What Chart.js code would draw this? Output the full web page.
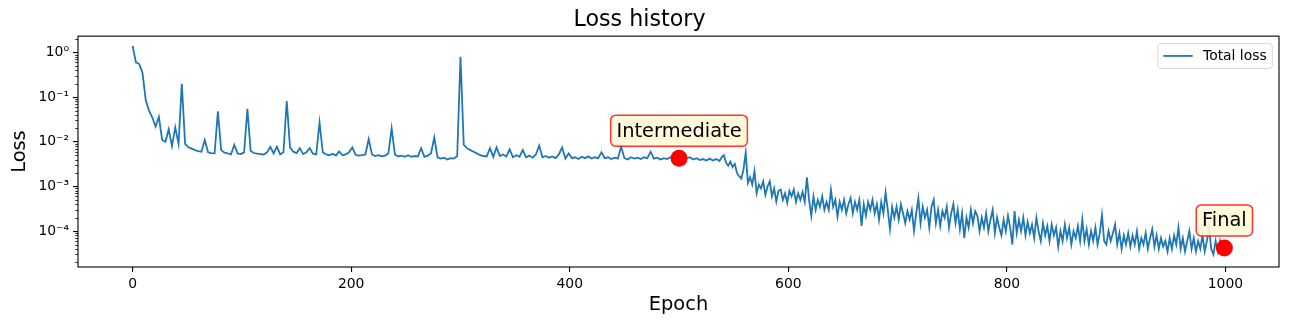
<!DOCTYPE html>
<html>
<head>
<meta charset="utf-8">
<script src="https://cdn.jsdelivr.net/npm/chart.js@4.4.1/dist/chart.umd.min.js"></script>
<style>
  html, body { margin: 0; padding: 0; background: #fff; }
  #wrap { width: 1289px; height: 325px; }
</style>
</head>
<body>
<div id="wrap"><canvas id="lossChart" width="1289" height="325"></canvas></div>
<script>
// early part of the run, one value every 3 epochs (epochs 0..537, 30 epochs per line)
const lossEarly = [
  1.4, 0.6, 0.55, 0.35, 0.085, 0.05, 0.035, 0.022, 0.036, 0.011,                       // 0
  0.01, 0.019, 0.008, 0.021, 0.009, 0.2, 0.009, 0.0075, 0.007, 0.0065,                  // 30
  0.0062, 0.006, 0.011, 0.0058, 0.0056, 0.0055, 0.048, 0.0065, 0.0057, 0.0055,          // 60
  0.0052, 0.0085, 0.0055, 0.0053, 0.0058, 0.055, 0.0062, 0.0056, 0.0054, 0.0053,        // 90
  0.0052, 0.0058, 0.0077, 0.0055, 0.0078, 0.0052, 0.0058, 0.082, 0.0075, 0.006,         // 120
  0.0056, 0.0072, 0.0053, 0.0058, 0.0072, 0.0054, 0.0052, 0.027, 0.0058, 0.0052,        // 150
  0.005, 0.0054, 0.0049, 0.0061, 0.005, 0.0052, 0.0058, 0.0075, 0.0051, 0.0049,         // 180
  0.005, 0.0052, 0.0115, 0.0052, 0.0048, 0.005, 0.0047, 0.0049, 0.0055, 0.02,           // 210
  0.0052, 0.0047, 0.0049, 0.0046, 0.005, 0.0046, 0.0048, 0.0047, 0.0072, 0.0046,        // 240
  0.0049, 0.0055, 0.0125, 0.0045, 0.0042, 0.0044, 0.004, 0.0043, 0.0042, 0.0048,        // 270
  0.8, 0.0085, 0.0072, 0.0065, 0.006, 0.0055, 0.005, 0.0048, 0.0047, 0.0072,            // 300
  0.0046, 0.0075, 0.0048, 0.0052, 0.0047, 0.0068, 0.0045, 0.005, 0.0046, 0.0066,        // 330
  0.0045, 0.0049, 0.0044, 0.0052, 0.0082, 0.0045, 0.0048, 0.0044, 0.0047, 0.0043,       // 360
  0.0052, 0.0074, 0.0042, 0.0055, 0.0043, 0.0045, 0.0041, 0.0046, 0.0043, 0.0047,       // 390
  0.0042, 0.0045, 0.0043, 0.0058, 0.0043, 0.0045, 0.0041, 0.0044, 0.0042, 0.0078,       // 420
  0.0043, 0.004, 0.0045, 0.0042, 0.0044, 0.0041, 0.0045, 0.0043, 0.006, 0.0042,         // 450
  0.0044, 0.004, 0.0043, 0.0041, 0.0045, 0.0042, 0.0044, 0.004, 0.0046, 0.0042,         // 480
  0.0045, 0.004, 0.0043, 0.0039, 0.0041, 0.0038, 0.0042, 0.0038, 0.0041, 0.0037         // 510
];
// noisy late part, one value every 2 epochs (epochs 539..999, 20 epochs per line)
const lossLate = [
  0.0045, 0.005, 0.0034, 0.0029, 0.0036, 0.0027, 0.0032, 0.002, 0.0017, 0.0015,          // 539
  0.0024, 0.0057, 0.0012, 0.0016, 0.0011, 0.0022, 0.0007, 0.0011, 0.0009, 0.0013,        // 559
  0.00065, 0.001, 0.0013, 0.0006, 0.0009, 0.00046, 0.0008, 0.00085, 0.0005, 0.0007,      // 579
  0.00043, 0.0008, 0.0006, 0.00085, 0.00045, 0.0007, 0.0005, 0.00075, 0.00045, 0.0016,   // 599
  0.0005, 0.00022, 0.0006, 0.0003, 0.0005, 0.00035, 0.0006, 0.0003, 0.00045, 0.0003,     // 619
  0.00085, 0.00035, 0.0005, 0.00021, 0.00045, 0.0003, 0.0005, 0.00025, 0.0004, 0.00055,  // 639
  0.00025, 0.00045, 0.0003, 0.0005, 0.00013, 0.0004, 0.00022, 0.00045, 0.0003, 0.0005,   // 659
  0.00025, 0.0004, 0.00018, 0.00045, 0.00025, 0.00073, 0.0003, 0.00011, 0.00035, 0.0002, // 679
  0.00035, 0.00018, 0.0004, 0.00025, 0.00015, 0.00028, 0.00018, 0.0003, 0.0001, 0.00025, // 699
  0.00055, 0.00015, 0.00035, 0.0002, 0.0003, 0.00012, 0.00035, 0.0005, 0.00015, 0.0003,  // 719
  0.00013, 0.00028, 0.0002, 0.00035, 0.00012, 0.00025, 0.0004, 0.00015, 0.0003, 0.00011, // 739
  0.00025, 0.00007, 0.0002, 0.00012, 0.0003, 0.00015, 0.00028, 0.00022, 0.0001, 0.0002,  // 759
  0.00012, 0.00025, 0.0001, 0.00018, 0.0003, 0.00009, 0.0002, 0.00012, 0.00008, 0.00018, // 779
  0.0001, 0.00022, 0.00012, 0.00005, 0.00028, 0.00009, 0.00018, 0.0001, 0.0002, 0.00008, // 799
  0.00016, 0.00009, 0.00014, 0.00007, 0.0002, 0.0001, 0.00006, 0.00015, 0.00008, 0.00013, // 819
  0.00006, 0.00014, 0.00008, 0.00012, 0.000045, 0.0001, 0.00006, 0.00014, 0.00007, 0.00012, // 839
  0.00005, 0.0001, 0.00007, 0.00013, 0.00006, 0.00018, 0.00006, 0.00011, 0.00005, 0.0001,   // 859
  0.00006, 0.00012, 0.00005, 0.00009, 0.00023, 0.00006, 0.00005, 0.0001, 0.00006, 0.00009,  // 879
  0.00014, 0.00005, 0.00009, 0.00004, 0.00008, 0.00005, 0.00009, 0.000045, 0.00008, 0.00005, // 899
  0.0001, 0.00004, 0.00007, 0.00005, 0.00009, 0.00004, 0.00007, 0.00011, 0.000045, 0.00008,  // 919
  0.00004, 0.00007, 0.000045, 0.00006, 0.000035, 0.00007, 0.00004, 0.00008, 0.00005, 0.00012, // 939
  0.00004, 0.00007, 0.000035, 0.00006, 0.0001, 0.00004, 0.00007, 0.000035, 0.00006, 0.00004,  // 959
  0.00008, 0.000035, 0.00006, 0.00012, 0.00004, 0.00003, 0.00006, 0.000035, 0.00006, 0.000035, // 979
  0.000042                                                                                     // 999
];
const epochsEarly = lossEarly.map((_, i) => i * 3);
const epochsLate = lossLate.map((_, i) => 539 + i * 2);
const epochs = epochsEarly.concat(epochsLate);
const loss = lossEarly.concat(lossLate);

// annotated points
const markEpochs = [500, 999];
const markLoss = [0.0043, 0.000042];
const markLabels = ['Intermediate', 'Final'];

const xTicks = [0, 200, 400, 600, 800, 1000];
const yTicks = [1, 0.1, 0.01, 0.001, 0.0001];
const yTickLabels = ['10⁰', '10⁻¹', '10⁻²', '10⁻³', '10⁻⁴'];

const FONT = 'DejaVu Sans';
const BLUE = '#1f77b4';

function roundRect(ctx, x, y, w, h, r) {
  ctx.beginPath();
  ctx.moveTo(x + r, y);
  ctx.lineTo(x + w - r, y);
  ctx.arcTo(x + w, y, x + w, y + r, r);
  ctx.lineTo(x + w, y + h - r);
  ctx.arcTo(x + w, y + h, x + w - r, y + h, r);
  ctx.lineTo(x + r, y + h);
  ctx.arcTo(x, y + h, x, y + h - r, r);
  ctx.lineTo(x, y + r);
  ctx.arcTo(x, y, x + r, y, r);
  ctx.closePath();
}

// frame, minor log ticks, annotation boxes and the legend
const extras = {
  id: 'extras',
  afterDatasetsDraw(chart) {
    const { ctx, chartArea: a, scales } = chart;
    const ys = scales.y, xs = scales.x;
    ctx.save();

    ctx.strokeStyle = '#000';
    ctx.lineWidth = 1.1;
    ctx.strokeRect(a.left, a.top, a.right - a.left, a.bottom - a.top);

    ctx.lineWidth = 0.8;
    for (let k = -6; k <= 1; k++) {
      for (let m = 2; m <= 9; m++) {
        const v = m * Math.pow(10, k);
        if (v < ys.min || v > ys.max) continue;
        const py = Math.round(ys.getPixelForValue(v)) + 0.5;
        ctx.beginPath();
        ctx.moveTo(a.left, py);
        ctx.lineTo(a.left - 2.8, py);
        ctx.stroke();
      }
    }

    // annotation boxes
    ctx.font = '19.4px "' + FONT + '"';
    ctx.textAlign = 'center';
    ctx.textBaseline = 'middle';
    markLabels.forEach((label, i) => {
      const px = xs.getPixelForValue(markEpochs[i]);
      const py = ys.getPixelForValue(markLoss[i]) - 27.5;
      const w = ctx.measureText(label).width + 11.6;
      const h = 31;
      roundRect(ctx, px - w / 2, py - h / 2, w, h, 5);
      ctx.fillStyle = 'rgba(255, 248, 215, 0.9)';
      ctx.fill();
      ctx.strokeStyle = 'rgba(255, 0, 0, 0.8)';
      ctx.lineWidth = 1.5;
      ctx.stroke();
      ctx.fillStyle = '#000';
      ctx.fillText(label, px, py + 1);
    });

    // legend
    ctx.font = '13.9px "' + FONT + '"';
    const text = 'Total loss';
    const tw = ctx.measureText(text).width;
    const boxRight = a.right - 6.7;
    const boxTop = a.top + 7.3;
    const textLeft = boxRight - 5.6 - tw;
    const lineRight = textLeft - 10.3;
    const lineLeft = lineRight - 29.4;
    const boxLeft = lineLeft - 5.3;
    const cy = boxTop + 12.5;
    roundRect(ctx, boxLeft, boxTop, boxRight - boxLeft, 25, 3);
    ctx.fillStyle = 'rgba(255,255,255,0.8)';
    ctx.fill();
    ctx.strokeStyle = '#d6d6d6';
    ctx.lineWidth = 1;
    ctx.stroke();
    ctx.strokeStyle = BLUE;
    ctx.lineWidth = 1.8;
    ctx.beginPath();
    ctx.moveTo(lineLeft, cy);
    ctx.lineTo(lineRight, cy);
    ctx.stroke();
    ctx.fillStyle = '#000';
    ctx.textAlign = 'left';
    ctx.fillText(text, textLeft, cy + 0.5);

    ctx.restore();
  }
};

new Chart(document.getElementById('lossChart'), {
  type: 'line',
  data: {
    datasets: [
      {
        label: 'markers',
        data: markEpochs.map((e, i) => ({ x: e, y: markLoss[i] })),
        showLine: false,
        pointRadius: 8.5,
        pointBackgroundColor: '#ff0000',
        pointBorderWidth: 0,
        order: 0
      },
      {
        label: 'Total loss',
        data: epochs.map((e, i) => ({ x: e, y: loss[i] })),
        borderColor: BLUE,
        borderWidth: 1.8,
        pointRadius: 0,
        tension: 0,
        order: 1
      }
    ]
  },
  options: {
    responsive: false,
    animation: false,
    devicePixelRatio: 1,
    events: [],
    layout: { padding: { left: 0, right: 10, top: 0, bottom: 0 } },
    plugins: {
      legend: { display: false },
      tooltip: { enabled: false },
      title: {
        display: true,
        text: 'Loss history',
        color: '#000',
        font: { family: FONT, size: 22.2, weight: 'normal' },
        padding: { top: 6.5, bottom: 3 }
      }
    },
    scales: {
      x: {
        type: 'linear',
        min: -50,
        max: 1049,
        afterBuildTicks: (s) => { s.ticks = xTicks.map(v => ({ value: v })); },
        afterFit: (s) => { s.height = 58; },
        border: { display: false },
        grid: { drawOnChartArea: false, drawTicks: true, tickLength: 5, color: '#000', lineWidth: 1.1 },
        ticks: { color: '#000', font: { family: FONT, size: 13.9 }, padding: 4, maxRotation: 0, autoSkip: false,
                 callback: (v) => String(v) },
        title: { display: true, text: 'Epoch', color: '#000', font: { family: FONT, size: 19.4 }, padding: { top: 8, bottom: 8 } }
      },
      y: {
        type: 'logarithmic',
        min: 1.57e-5,
        max: 2.32,
        afterBuildTicks: (s) => { s.ticks = yTicks.map(v => ({ value: v })); },
        afterFit: (s) => { s.width = 78; },
        border: { display: false },
        grid: { drawOnChartArea: false, drawTicks: true, tickLength: 5, color: '#000', lineWidth: 1.1 },
        ticks: {
          color: '#000',
          font: { family: FONT, size: 13.9 },
          padding: 4,
          autoSkip: false,
          callback: (v) => {
            const i = yTicks.findIndex(t => Math.abs(t - v) / t < 1e-6);
            return i >= 0 ? yTickLabels[i] : '';
          }
        },
        title: { display: true, text: 'Loss', color: '#000', font: { family: FONT, size: 19.4 }, padding: { top: 8.4, bottom: 8.4 } }
      }
    }
  },
  plugins: [extras]
});
</script>
</body>
</html>
